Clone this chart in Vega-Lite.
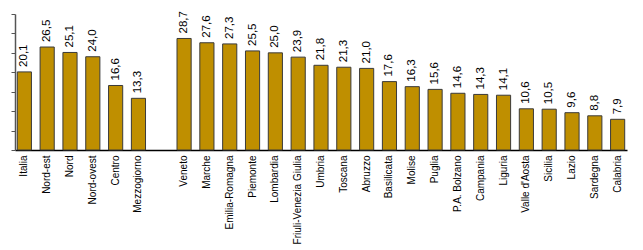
{
  "$schema": "https://vega.github.io/schema/vega-lite/v6.json",
  "width": 612,
  "height": 136,
  "autosize": "none",
  "padding": {"left": 15, "top": 14, "right": 16, "bottom": 100},
  "config": {
    "view": {"stroke": null},
    "locale": {"number": {"decimal": ",", "thousands": ".", "grouping": [3], "currency": ["", " €"]}},
    "font": "Liberation Sans"
  },
  "data": {
    "values": [
      {"area": "Italia", "v": 20.1},
      {"area": "Nord-est", "v": 26.5},
      {"area": "Nord", "v": 25.1},
      {"area": "Nord-ovest", "v": 24.0},
      {"area": "Centro", "v": 16.6},
      {"area": "Mezzogiorno", "v": 13.3},
      {"area": "Veneto", "v": 28.7},
      {"area": "Marche", "v": 27.6},
      {"area": "Emilia-Romagna", "v": 27.3},
      {"area": "Piemonte", "v": 25.5},
      {"area": "Lombardia", "v": 25.0},
      {"area": "Friuli-Venezia Giulia", "v": 23.9},
      {"area": "Umbria", "v": 21.8},
      {"area": "Toscana", "v": 21.3},
      {"area": "Abruzzo", "v": 21.0},
      {"area": "Basilicata", "v": 17.6},
      {"area": "Molise", "v": 16.3},
      {"area": "Puglia", "v": 15.6},
      {"area": "P.A. Bolzano", "v": 14.6},
      {"area": "Campania", "v": 14.3},
      {"area": "Liguria", "v": 14.1},
      {"area": "Valle d'Aosta", "v": 10.6},
      {"area": "Sicilia", "v": 10.5},
      {"area": "Lazio", "v": 9.6},
      {"area": "Sardegna", "v": 8.8},
      {"area": "Calabria", "v": 7.9}
    ]
  },
  "encoding": {
    "x": {
      "field": "area",
      "type": "nominal",
      "sort": null,
      "scale": {
        "domain": ["Italia", "Nord-est", "Nord", "Nord-ovest", "Centro", "Mezzogiorno", " ", "Veneto", "Marche", "Emilia-Romagna", "Piemonte", "Lombardia", "Friuli-Venezia Giulia", "Umbria", "Toscana", "Abruzzo", "Basilicata", "Molise", "Puglia", "P.A. Bolzano", "Campania", "Liguria", "Valle d'Aosta", "Sicilia", "Lazio", "Sardegna", "Calabria"],
        "paddingInner": 0.38,
        "paddingOuter": 0.1
      },
      "axis": {
        "title": null,
        "labelAngle": -90,
        "labelFontSize": 10,
        "labelColor": "#000000",
        "labelPadding": 5,
        "ticks": false,
        "domainColor": "#000000",
        "domainWidth": 1.5,
        "labelFont": "Liberation Sans"
      }
    },
    "y": {
      "field": "v",
      "type": "quantitative",
      "scale": {"domain": [0, 35], "nice": false},
      "axis": {
        "title": null,
        "labels": false,
        "grid": false,
        "values": [0, 5, 10, 15, 20, 25, 30, 35],
        "tickSize": 4,
        "tickColor": "#555555",
        "domainColor": "#555555",
        "domainWidth": 1.5
      }
    }
  },
  "layer": [
    {
      "mark": {"type": "bar", "color": "#BF8F00", "stroke": "#3a3a3a", "strokeWidth": 1}
    },
    {
      "mark": {"type": "text", "angle": -90, "align": "left", "baseline": "middle", "dx": 5, "fontSize": 11.5, "font": "Liberation Sans", "color": "#000000"},
      "encoding": {
        "text": {"field": "v", "type": "quantitative", "format": ".1f"}
      }
    }
  ]
}
